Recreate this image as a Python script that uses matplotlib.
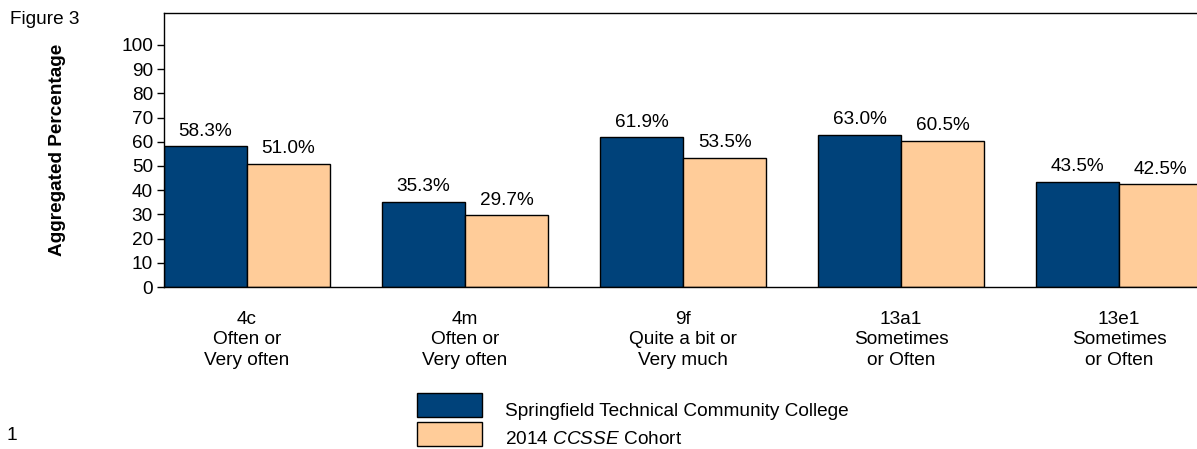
import matplotlib
matplotlib.use("Agg")
import matplotlib.pyplot as plt
import numpy as np
from matplotlib.patches import Rectangle

plt.rcParams['font.family'] = ['Liberation Sans', 'DejaVu Sans']
plt.rcParams['mathtext.fontset'] = 'custom'
plt.rcParams['mathtext.rm'] = 'Liberation Sans'
plt.rcParams['mathtext.it'] = 'Liberation Sans:italic'

# data
categories = ["4c\nOften or\nVery often",
              "4m\nOften or\nVery often",
              "9f\nQuite a bit or\nVery much",
              "13a1\nSometimes\nor Often",
              "13e1\nSometimes\nor Often"]
college = [58.3, 35.3, 61.9, 63.0, 43.5]
cohort = [51.0, 29.7, 53.5, 60.5, 42.5]
series_names = ["Springfield Technical Community College",
                "2014 $\\mathit{CCSSE}$ Cohort"]
yticks = [0, 10, 20, 30, 40, 50, 60, 70, 80, 90, 100]

blue = "#00427A"
peach = "#FFCC99"
colors = [blue, peach]
fs = 13.7
W, H = 1197, 449

fig = plt.figure(figsize=(W / 100, H / 100), dpi=100)
ax = fig.add_axes([164 / W, 1 - 287 / H, 1 - 164 / W, (287 - 13) / H])

x = np.arange(len(categories))
w = 0.381
b1 = ax.bar(x - w / 2, college, w, color=blue, edgecolor="black", linewidth=1)
b2 = ax.bar(x + w / 2, cohort, w, color=peach, edgecolor="black", linewidth=1)

for bars, vals in ((b1, college), (b2, cohort)):
    for r, v in zip(bars, vals):
        ax.annotate(f"{v:.1f}%", (r.get_x() + r.get_width() / 2, v),
                    xytext=(0, 4.5), textcoords="offset points",
                    ha="center", va="bottom", fontsize=fs)

ax.set_xlim(-w, 4.358)
ax.set_ylim(0, 113.2)
ax.set_yticks(yticks)
ax.set_yticklabels([str(t) for t in yticks], fontsize=fs)
ax.set_xticks(x)
ax.set_xticklabels(categories, fontsize=fs, linespacing=1.24)
ax.tick_params(axis="x", length=0, pad=17.5)
ax.tick_params(axis="y", length=5, width=1, pad=3)
ax.spines["right"].set_visible(False)
for s in ("left", "top", "bottom"):
    ax.spines[s].set_linewidth(1)

fig.text(57 / W, 1 - 150 / H, "Aggregated Percentage", rotation=90,
         ha="center", va="center", fontsize=fs, fontweight="bold")
fig.text(10 / W, 1 - 20 / H, "Figure 3", ha="left", va="center", fontsize=fs)
fig.text(6 / W, 1 - 436 / H, "1", ha="left", va="center", fontsize=fs)

# legend drawn by hand: swatch + label per series
sw_x, sw_w, sw_h = 417, 65, 24
rows_top = [393, 422]
for col, name, top in zip(colors, series_names, rows_top):
    fig.add_artist(Rectangle((sw_x / W, 1 - (top + sw_h) / H), sw_w / W, sw_h / H,
                             transform=fig.transFigure, facecolor=col,
                             edgecolor="black", linewidth=1))
    fig.text(505 / W, 1 - (top + 18) / H, name, ha="left", va="center", fontsize=fs)

fig.savefig("out.png", dpi=100)
